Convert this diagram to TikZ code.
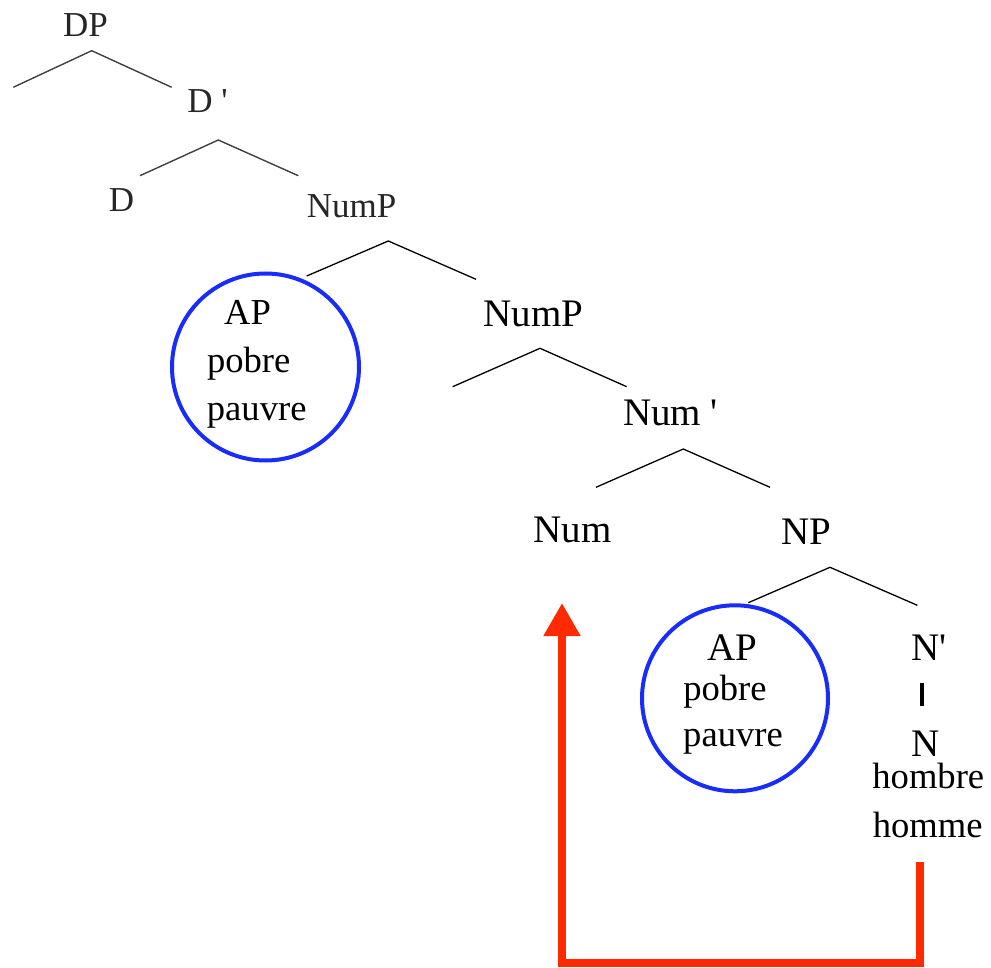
\documentclass[tikz,border=0pt]{standalone}
\usepackage{fontspec}
\setmainfont{Liberation Serif}
\definecolor{RingBlue}{RGB}{24, 44, 250}
\definecolor{MoveRed}{RGB}{255, 42, 0}
\usetikzlibrary{arrows.meta}

\begin{document}
\begin{tikzpicture}[x=0.5pt, y=-0.5pt,
  every node/.style={inner sep=0pt, anchor=base},
  topcat/.style={font=\fontsize{17.5pt}{20pt}\selectfont, text=black!85},
  cat/.style={font=\fontsize{19.5pt}{22pt}\selectfont},
  word/.style={font=\fontsize{18.3pt}{21pt}\selectfont},
  branch/.style={draw=black, line width=0.65pt},
  topbranch/.style={draw=black!75, line width=0.7pt},
  apring/.style={circle, draw=RingBlue, line width=2pt, anchor=center},
  move/.style={draw=MoveRed, line width=4pt, -{Triangle[length=16.5pt,width=17.5pt]}}]
\useasboundingbox (0,0) rectangle (991,968);

% DP and D'
\node[topcat] (dp) at (85.5,37) {DP};
\node[topcat] (dbar) at (207.5,113) {D \textquotesingle};
\node[topcat] (d) at (121.5,212) {D};
\node[topcat] (nump1) at (351.5,218) {NumP};
\coordinate (b1a) at (91.7,50.7);  \coordinate (b1l) at (13.3,87.3);   \coordinate (b1r) at (171.7,87.3);
\coordinate (b2a) at (218.3,140);  \coordinate (b2l) at (140,175.7);   \coordinate (b2r) at (298.3,175.7);
\draw[topbranch] (b1l) -- (b1a) -- (b1r);
\draw[topbranch] (b2l) -- (b2a) -- (b2r);

% NumP with the adjective adjoined
\node[apring, minimum size=93.5pt] (ring1) at (265.5,367) {};
\node[word] (ap1) at (247.5,325) {AP};
\node[word] (pobre1) at (248.7,372) {pobre};
\node[word] (pauvre1) at (256.7,420) {pauvre};
\node[cat] (nump2) at (533.3,327) {NumP};
\node[cat] (numbar) at (670.5,425) {Num \textquotesingle};
\node[cat] (num) at (572.5,542) {Num};
\node[cat] (np) at (806.7,544) {NP};
\coordinate (b3a) at (388.3,241);  \coordinate (b3l) at (306.7,276);   \coordinate (b3r) at (476,279.3);
\coordinate (b4a) at (540,348.3);  \coordinate (b4l) at (452.7,386.7); \coordinate (b4r) at (626.7,386.7);
\coordinate (b5a) at (683.3,449);  \coordinate (b5l) at (596,487.3);   \coordinate (b5r) at (770,487.3);
\draw[branch] (b3l) -- (b3a) -- (b3r);
\draw[branch] (b4l) -- (b4a) -- (b4r);
\draw[branch] (b5l) -- (b5a) -- (b5r);

% NP
\node[apring, minimum size=93pt] (ring2) at (735,698.3) {};
\node[cat] (ap2) at (732.5,660) {AP};
\node[word] (pobre2) at (725,700) {pobre};
\node[word] (pauvre2) at (733,746.7) {pauvre};
\node[cat] (nbar) at (929,660) {N\textquotesingle};
\node[cat] (nhead) at (925.5,756.7) {N};
\node[word] (hombre) at (928.3,788.3) {hombre};
\node[word] (homme) at (927.7,837.3) {homme};
\coordinate (b6a) at (830,567.3);  \coordinate (b6l) at (748.3,602.7); \coordinate (b6r) at (917.3,605.3);
\draw[branch] (b6l) -- (b6a) -- (b6r);
\draw[line width=2pt] ([shift={(-3.5,-25)}]nhead.north) -- ([shift={(-3.5,-48)}]nhead.north);

% N-to-Num movement
\coordinate (trace) at (919.5,862);
\coordinate (landing) at (562,603);
\draw[move] (trace) -- ++(0,101) -| (landing);
\end{tikzpicture}
\end{document}
